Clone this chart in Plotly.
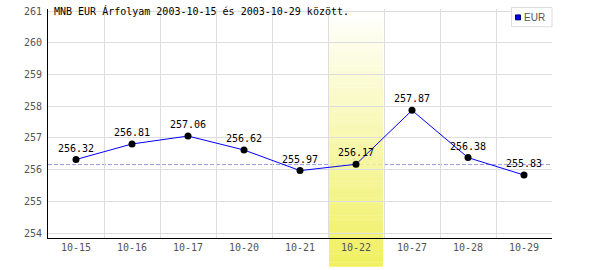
import plotly.graph_objects as go

# ---- data ----
dates = ["10-15", "10-16", "10-17", "10-20", "10-21", "10-22", "10-27", "10-28", "10-29"]
eur_rates = [256.32, 256.81, 257.06, 256.62, 255.97, 256.17, 257.87, 256.38, 255.83]
reference_rate = 256.16
highlight_date = "10-22"
series_name = "EUR"
title_text = "MNB EUR Árfolyam 2003-10-15 és 2003-10-29 között."

# ---- layout geometry (pixels) ----
W, H = 600, 270
ML, MR, MT, MB = 48, 48, 6, 32
plot_h = H - MT - MB
plot_w = W - ML - MR
y_range = [253.845, 261.066]

def py(p):  # pixel-from-top -> paper y
    return (H - MB - p) / plot_h

def px(p):  # pixel-from-left -> paper x
    return (p - ML) / plot_w

MONO = "DejaVu Sans Mono"

fig = go.Figure()

fig.add_trace(go.Scatter(
    x=dates, y=eur_rates, mode="lines+markers+text",
    line=dict(color="#0000ff", width=1),
    marker=dict(color="black", size=7),
    text=[f"{v:.2f}" for v in eur_rates],
    textposition="top center",
    textfont=dict(family=MONO, size=10, color="black"),
    cliponaxis=False, showlegend=False, hoverinfo="skip",
))

shapes = []
# reference dashed line
shapes.append(dict(type="line", xref="paper", yref="y", x0=0, x1=1,
                   y0=reference_rate, y1=reference_rate, layer="between",
                   line=dict(color="#9a9ad8", width=1, dash="4px,2px")))

# gradient highlight band for the selected date
hi = dates.index(highlight_date)
top_p, bot_p = 8, 267
n = 60
c0 = (255, 255, 255)
c1 = (240, 240, 96)
for i in range(n):
    t = (i + 0.5) / n
    col = tuple(round(c0[k] + (c1[k] - c0[k]) * t) for k in range(3))
    a = top_p + (bot_p - top_p) * i / n
    b = top_p + (bot_p - top_p) * (i + 1) / n
    shapes.append(dict(type="rect", xref="x", yref="paper",
                       x0=hi - 0.482, x1=hi + 0.482, y0=py(b), y1=py(a) + 0.001,
                       layer="between", line=dict(width=0),
                       fillcolor="rgb(%d,%d,%d)" % col))

# legend box
shapes.append(dict(type="rect", xref="paper", yref="paper",
                   x0=px(511.5), x1=px(552), y0=py(24), y1=py(4.5),
                   line=dict(color="#dddddd", width=1), fillcolor="white", layer="above"))
shapes.append(dict(type="rect", xref="paper", yref="paper",
                   x0=px(515.5), x1=px(520.5), y0=py(17), y1=py(12),
                   line=dict(color="#000066", width=1), fillcolor="#0000ff", layer="above"))

annotations = [
    dict(text=title_text, xref="paper", yref="paper", x=px(52), y=py(8),
         xanchor="left", yanchor="middle", showarrow=False,
         font=dict(family=MONO, size=10, color="black")),
    dict(text=series_name, xref="paper", yref="paper", x=px(522), y=py(14.5),
         xanchor="left", yanchor="middle", showarrow=False,
         font=dict(family="Liberation Sans", size=10, color="#555555")),
]

fig.update_layout(
    width=W, height=H,
    margin=dict(l=ML, r=MR, t=MT, b=MB, pad=0),
    paper_bgcolor="white", plot_bgcolor="white",
    shapes=shapes, annotations=annotations, showlegend=False,
    xaxis=dict(type="category", range=[-0.5, len(dates) - 0.5],
               tickson="boundaries", showgrid=True, gridcolor="#dddddd", gridwidth=1,
               showline=True, linecolor="black", linewidth=1,
               ticks="outside", ticklen=2, tickcolor="rgba(0,0,0,0)",
               tickfont=dict(family=MONO, size=10, color="#555555"),
               fixedrange=True, zeroline=False),
    yaxis=dict(range=y_range, dtick=1, tick0=254, showgrid=True, gridcolor="#dddddd",
               gridwidth=1, showline=True, linecolor="black", linewidth=1,
               ticks="outside", ticklen=3, tickcolor="rgba(0,0,0,0)",
               tickfont=dict(family=MONO, size=10, color="#555555"),
               fixedrange=True, zeroline=False),
)

fig.write_html("out.html", config={"displayModeBar": False})
